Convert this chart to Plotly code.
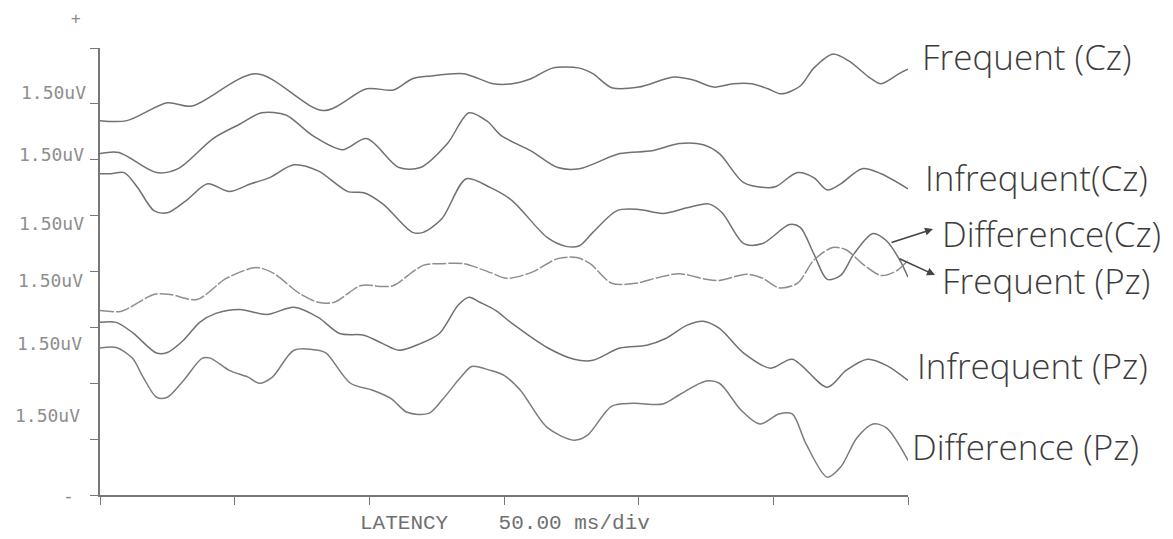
import plotly.graph_objects as go

# ---------------- data (time in ms, amplitude in scale divisions) ----------------
t_freq_cz = [0, 10, 25, 34, 58, 83, 99, 109, 116, 123, 135, 146, 153, 160, 168, 178, 183, 190, 200, 213,
             220, 228, 235, 242, 248, 253, 260, 265, 272, 278, 286, 290, 297, 300]
v_freq_cz = [6.70, 6.70, 7.02, 6.96, 7.54, 6.88, 7.27, 7.25, 7.45, 7.50, 7.54, 7.36, 7.36, 7.45, 7.64, 7.64,
             7.54, 7.29, 7.30, 7.48, 7.43, 7.30, 7.36, 7.36, 7.27, 7.18, 7.32, 7.64, 7.89, 7.77, 7.46, 7.36,
             7.55, 7.62]

t_infreq_cz = [0, 7, 21, 29, 42, 52, 60, 69, 79, 90, 99, 111, 119, 129, 137, 144, 149, 160, 170, 178,
               193, 205, 215, 224, 230, 239, 248, 251, 259, 265, 270, 275, 283, 290, 300]
v_infreq_cz = [6.11, 6.13, 5.77, 5.84, 6.38, 6.64, 6.84, 6.80, 6.43, 6.18, 6.38, 5.86, 5.86, 6.29, 6.84,
               6.68, 6.43, 6.16, 5.86, 5.84, 6.11, 6.16, 6.29, 6.27, 6.11, 5.59, 5.50, 5.52, 5.77, 5.68,
               5.46, 5.57, 5.84, 5.75, 5.48]

t_diff_cz = [0, 4, 9, 14, 20, 25, 32, 40, 48, 56, 63, 72, 81, 92, 98, 105, 116, 120, 127, 136, 145, 153,
             166, 173, 178, 183, 192, 200, 209, 218, 226, 231, 239, 246, 256, 260, 265, 270, 275, 280,
             287, 292, 297, 300]
v_diff_cz = [5.75, 5.75, 5.77, 5.50, 5.09, 5.05, 5.27, 5.57, 5.43, 5.57, 5.68, 5.91, 5.80, 5.43, 5.41,
             5.21, 4.70, 4.70, 4.95, 5.66, 5.50, 5.27, 4.61, 4.45, 4.46, 4.70, 5.09, 5.11, 5.04, 5.14,
             5.21, 5.05, 4.50, 4.50, 4.84, 4.79, 4.32, 3.86, 3.93, 4.32, 4.68, 4.55, 4.20, 3.90]

t_freq_pz = [0, 8, 20, 26, 36, 47, 58, 64, 74, 81, 87, 97, 105, 109, 120, 127, 135, 145, 151, 160, 170,
             177, 182, 190, 199, 207, 215, 225, 230, 240, 246, 252, 259, 265, 272, 277, 283, 290, 296, 300]
v_freq_pz = [3.30, 3.29, 3.59, 3.59, 3.50, 3.88, 4.07, 3.98, 3.61, 3.45, 3.45, 3.75, 3.73, 3.75, 4.11,
             4.14, 4.14, 3.98, 3.88, 3.98, 4.23, 4.25, 4.14, 3.79, 3.79, 3.89, 3.96, 3.86, 3.84, 3.95,
             3.88, 3.71, 3.79, 4.20, 4.43, 4.39, 4.14, 3.93, 4.02, 4.20]

t_infreq_pz = [0, 6, 12, 21, 25, 31, 37, 43, 52, 62, 72, 81, 89, 98, 105, 111, 119, 126, 133, 137, 141,
               147, 153, 166, 176, 183, 193, 203, 210, 218, 224, 230, 239, 249, 257, 270, 277, 285, 292, 300]
v_infreq_pz = [3.09, 3.09, 2.91, 2.54, 2.55, 2.77, 3.09, 3.25, 3.32, 3.23, 3.36, 3.18, 2.89, 2.86, 2.71,
               2.59, 2.71, 2.89, 3.40, 3.54, 3.45, 3.30, 3.07, 2.64, 2.43, 2.41, 2.63, 2.68, 2.80, 3.04,
               3.11, 2.98, 2.54, 2.27, 2.43, 1.93, 2.23, 2.43, 2.32, 2.05]

t_diff_pz = [0, 6, 12, 16, 21, 25, 31, 38, 41, 48, 55, 59, 64, 72, 81, 84, 93, 101, 108, 114, 122, 127,
             134, 138, 145, 150, 156, 166, 176, 181, 190, 198, 209, 215, 225, 230, 238, 245, 252, 257,
             262, 270, 275, 281, 287, 292, 300]
v_diff_pz = [2.63, 2.64, 2.45, 2.11, 1.75, 1.75, 2.05, 2.45, 2.45, 2.23, 2.11, 2.00, 2.11, 2.59, 2.59,
             2.54, 2.00, 1.88, 1.73, 1.48, 1.46, 1.70, 2.11, 2.30, 2.23, 2.14, 1.88, 1.21, 0.98, 1.07,
             1.59, 1.64, 1.63, 1.79, 2.04, 2.00, 1.52, 1.27, 1.45, 1.45, 0.93, 0.32, 0.50, 1.02, 1.27,
             1.20, 0.62]

trace_names = ["Frequent (Cz)", "Infrequent(Cz)", "Difference(Cz)",
               "Frequent (Pz)", "Infrequent (Pz)", "Difference (Pz)"]
x_tick_values = [0, 50, 100, 150, 200, 250, 300]
y_tick_values = [0, 1, 2, 3, 4, 5, 6, 7, 8]
scale_labels = ["1.50uV", "1.50uV", "1.50uV", "1.50uV", "1.50uV", "1.50uV"]
x_axis_title = "LATENCY\u00a0\u00a0\u00a0\u00a050.00\u00a0ms/div"

# ---------------- layout geometry ----------------
W, H = 1173, 539
L, R, T, B = 100, 265, 48, 44
PW, PH = W - L - R, H - T - B


def paper(px, py):
    return (px - L) / PW, (H - B - py) / PH


series = [(t_freq_cz, v_freq_cz), (t_infreq_cz, v_infreq_cz), (t_diff_cz, v_diff_cz),
          (t_freq_pz, v_freq_pz), (t_infreq_pz, v_infreq_pz), (t_diff_pz, v_diff_pz)]
line_colors = ["#717171", "#717171", "#717171", "#8e8e8e", "#717171", "#7c7c7c"]
line_dashes = ["solid", "solid", "solid", "14px,2px", "solid", "solid"]

fig = go.Figure()
for (tx, vy), name, col, dash in zip(series, trace_names, line_colors, line_dashes):
    fig.add_trace(go.Scatter(x=tx, y=vy, mode="lines", name=name,
                             line=dict(color=col, width=1.5, shape="spline", smoothing=0.85, dash=dash),
                             hoverinfo="skip"))

annotations = []

# scale labels on the left
label_pos = [(88, 92), (86, 155), (86, 223), (85, 280), (84, 343), (82, 415)]
for txt, (px, py) in zip(scale_labels, label_pos):
    xp, yp = paper(px, py)
    annotations.append(dict(x=xp, y=yp, xref="paper", yref="paper", text=txt, showarrow=False,
                            xanchor="right", yanchor="middle",
                            font=dict(family="DejaVu Sans Mono", size=18, color="#8e8e8e")))

# polarity marks
for txt, (px, py), sz in [("+", (76, 19), 16), ("-", (68, 495), 18)]:
    xp, yp = paper(px, py)
    annotations.append(dict(x=xp, y=yp, xref="paper", yref="paper", text=txt, showarrow=False,
                            xanchor="center", yanchor="middle",
                            font=dict(family="DejaVu Sans Mono", size=sz, color="#888888")))

# x axis title
xp, yp = paper(358, 523)
annotations.append(dict(x=xp, y=yp, xref="paper", yref="paper", text=x_axis_title, showarrow=False,
                        xanchor="left", yanchor="middle",
                        font=dict(family="Liberation Mono", size=21, color="#707070")))

# handwritten trace labels
hand_pos = [(920, 57), (923, 177), (940, 233), (940, 280), (915, 365), (910, 446)]
for txt, (px, py) in zip(trace_names, hand_pos):
    xp, yp = paper(px, py)
    annotations.append(dict(x=xp, y=yp, xref="paper", yref="paper", text=txt, showarrow=False,
                            xanchor="left", yanchor="middle",
                            font=dict(family="Open Sans", size=35, color="#3c3c3c", weight=300)))

# hand-drawn arrows
for (hx, hy), (tx_, ty_) in [((933, 229), (890, 243)), ((935, 275), (898, 258))]:
    xp, yp = paper(hx, hy)
    annotations.append(dict(x=xp, y=yp, xref="paper", yref="paper", text="", showarrow=True,
                            ax=tx_ - hx, ay=ty_ - hy, arrowhead=2, arrowsize=1,
                            arrowwidth=1.6, arrowcolor="#444444"))

axis_common = dict(showgrid=False, zeroline=False, showline=True, linecolor="#777777", linewidth=1.5,
                   ticks="outside", ticklen=8, tickwidth=1.3, tickcolor="#777777",
                   showticklabels=False, fixedrange=True)

fig.update_layout(
    width=W, height=H,
    margin=dict(l=L, r=R, t=T, b=B, pad=0),
    paper_bgcolor="white", plot_bgcolor="white",
    showlegend=False,
    xaxis=dict(range=[0, 300], tickvals=x_tick_values, **axis_common),
    yaxis=dict(range=[0, 8], tickvals=y_tick_values, **axis_common),
    annotations=annotations,
)

fig.write_html("out.html")
